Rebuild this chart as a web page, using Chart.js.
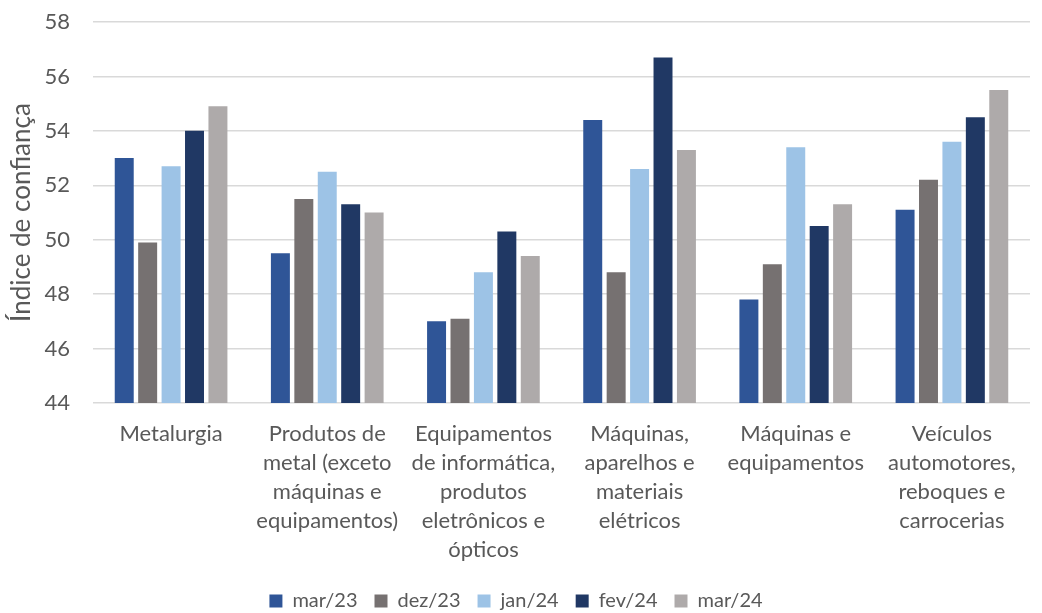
<!DOCTYPE html>
<html>
<head>
<meta charset="utf-8">
<script src="https://cdn.jsdelivr.net/npm/chart.js@4/dist/chart.umd.min.js"></script>
<style>
  html, body { margin: 0; padding: 0; background: #fff; }
  #wrap { width: 1042px; height: 613px; }
</style>
</head>
<body>
<div id="wrap"><canvas id="grafico"></canvas></div>
<script>
  const setores = [
    'Metalurgia',
    ['Produtos de', 'metal (exceto', 'máquinas e', 'equipamentos)'],
    ['Equipamentos', 'de informática,', 'produtos', 'eletrônicos e', 'ópticos'],
    ['Máquinas,', 'aparelhos e', 'materiais', 'elétricos'],
    ['Máquinas e', 'equipamentos'],
    ['Veículos', 'automotores,', 'reboques e', 'carrocerias']
  ];

  const mar23 = [53.0, 49.5, 47.0, 54.4, 47.8, 51.1];
  const dez23 = [49.9, 51.5, 47.1, 48.8, 49.1, 52.2];
  const jan24 = [52.7, 52.5, 48.8, 52.6, 53.4, 53.6];
  const fev24 = [54.0, 51.3, 50.3, 56.7, 50.5, 54.5];
  const mar24 = [54.9, 51.0, 49.4, 53.3, 51.3, 55.5];

  const fonte = "Lato, 'Open Sans', sans-serif";
  const cinzaTexto = '#595959';

  const serie = (label, cor, data) => ({
    label: label,
    backgroundColor: cor,
    borderColor: cor,
    data: data,
    categoryPercentage: 0.75,
    barPercentage: 0.81
  });

  // legenda um pouco mais baixa, mais perto da borda inferior
  const legendaBaixa = {
    id: 'legendaBaixa',
    beforeInit(chart) {
      const fitOriginal = chart.legend.fit;
      chart.legend.fit = function () {
        fitOriginal.call(this);
        this.height -= 8;
      };
    }
  };

  const config = {
    type: 'bar',
    data: {
      labels: setores,
      datasets: [
        serie('mar/23', '#2F5597', mar23),
        serie('dez/23', '#767171', dez23),
        serie('jan/24', '#9DC3E6', jan24),
        serie('fev/24', '#203864', fev24),
        serie('mar/24', '#AEAAAA', mar24)
      ]
    },
    plugins: [legendaBaixa],
    options: {
      responsive: true,
      maintainAspectRatio: false,
      animation: false,
      layout: {
        padding: { top: 22, right: 12, left: 2, bottom: 0 }
      },
      plugins: {
        legend: {
          position: 'bottom',
          labels: {
            boxWidth: 13,
            boxHeight: 13,
            padding: 17,
            color: cinzaTexto,
            font: { family: fonte, size: 20 }
          }
        },
        tooltip: { enabled: false }
      },
      scales: {
        x: {
          grid: { display: false, drawTicks: false },
          border: { display: false },
          afterFit: (escala) => { escala.height = 171; },
          ticks: {
            color: cinzaTexto,
            maxRotation: 0,
            autoSkip: false,
            padding: 16,
            font: { family: fonte, size: 22, lineHeight: 1.32 }
          }
        },
        y: {
          min: 44,
          max: 58,
          border: { display: false },
          grid: { color: '#D9D9D9', lineWidth: 1.5, drawTicks: false },
          afterFit: (escala) => {
            escala.width = 91;
            escala.paddingTop = 0;
            escala.paddingBottom = 0;
          },
          ticks: {
            stepSize: 2,
            color: cinzaTexto,
            padding: 23,
            font: { family: fonte, size: 22 }
          },
          title: {
            display: true,
            text: 'Índice de confiança',
            color: cinzaTexto,
            padding: { top: 4, bottom: 8 },
            font: { family: fonte, size: 26 }
          }
        }
      }
    }
  };

  new Chart(document.getElementById('grafico'), config);
</script>
</body>
</html>
